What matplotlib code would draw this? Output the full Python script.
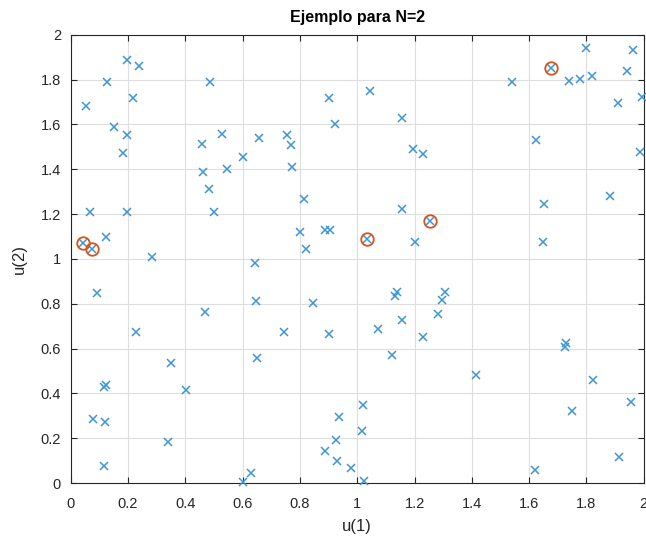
import numpy as np
import matplotlib
matplotlib.use("Agg")
import matplotlib.pyplot as plt

plt.rcParams['font.family'] = ['Liberation Sans', 'DejaVu Sans']

# sample points u = (u(1), u(2))
u1 = [0.052, 0.195, 0.237, 0.128, 0.216, 0.151, 0.195, 0.184, 0.067, 0.195,
      0.124, 0.044, 0.074, 0.285, 0.486, 0.458, 0.527, 0.600, 0.463, 0.547,
      0.483, 0.500, 0.900, 1.044, 0.924, 0.656, 0.755, 0.768, 0.772, 1.155,
      1.196, 1.228, 0.814, 1.155, 0.800, 0.886, 0.905, 0.823, 1.035, 1.255,
      1.200, 1.798, 1.963, 1.677, 1.941, 1.541, 1.738, 1.779, 1.821, 1.909,
      1.994, 1.623, 1.986, 1.881, 1.652, 1.648, 0.091, 0.469, 0.229, 0.349,
      0.117, 0.124, 0.403, 0.079, 0.120, 0.339, 0.117, 0.600, 0.630, 0.642,
      0.647, 0.652, 0.744, 0.846, 0.900, 1.071, 1.133, 1.138, 1.155, 1.122,
      1.228, 1.283, 1.297, 1.306, 1.021, 0.938, 1.016, 0.925, 0.889, 0.928,
      0.980, 1.025, 1.729, 1.724, 1.416, 1.824, 1.955, 1.749, 1.914, 1.619]
u2 = [1.683, 1.887, 1.859, 1.790, 1.719, 1.590, 1.554, 1.473, 1.209, 1.209,
      1.098, 1.073, 1.044, 1.010, 1.790, 1.514, 1.559, 1.455, 1.390, 1.403,
      1.314, 1.209, 1.717, 1.748, 1.600, 1.538, 1.554, 1.507, 1.410, 1.631,
      1.492, 1.467, 1.267, 1.221, 1.122, 1.127, 1.127, 1.044, 1.090, 1.169,
      1.076, 1.941, 1.933, 1.852, 1.840, 1.788, 1.793, 1.804, 1.818, 1.695,
      1.724, 1.532, 1.479, 1.280, 1.246, 1.076, 0.846, 0.763, 0.676, 0.536,
      0.428, 0.436, 0.414, 0.285, 0.274, 0.185, 0.075, 0.003, 0.046, 0.981,
      0.811, 0.559, 0.672, 0.805, 0.664, 0.688, 0.833, 0.852, 0.729, 0.571,
      0.652, 0.754, 0.815, 0.852, 0.349, 0.297, 0.232, 0.192, 0.145, 0.099,
      0.068, 0.009, 0.624, 0.607, 0.484, 0.460, 0.361, 0.320, 0.115, 0.057]

# highlighted points
sel_u1 = [0.044, 0.074, 1.035, 1.255, 1.677]
sel_u2 = [1.073, 1.044, 1.090, 1.169, 1.852]

tick_vals = np.arange(0, 2.01, 0.2)
tick_labels = ['0', '0.2', '0.4', '0.6', '0.8', '1', '1.2', '1.4', '1.6', '1.8', '2']

fig = plt.figure(figsize=(6.46, 5.44), dpi=100)
ax = fig.add_axes([0.1094, 0.112, 0.8871, 0.824])

ax.plot(u1, u2, 'x', color='#3d96d4', markersize=5.5, markeredgewidth=1.1,
        clip_on=False, zorder=3)
ax.plot(sel_u1, sel_u2, 'o', markerfacecolor='none', markeredgecolor='#d95319',
        markersize=9, markeredgewidth=1.3, clip_on=False, zorder=4)

ax.set_xlim(0, 2)
ax.set_ylim(0, 2)
ax.set_xticks(tick_vals)
ax.set_yticks(tick_vals)
ax.set_xticklabels(tick_labels)
ax.set_yticklabels(tick_labels)
ax.tick_params(direction='in', length=4, width=0.8, colors='#262626',
               labelsize=10.5, top=True, right=True)
ax.tick_params(axis='x', pad=10)
ax.tick_params(axis='y', pad=7)
ax.grid(True, color='#dedede', linewidth=0.8)
ax.set_axisbelow(True)
for s in ax.spines.values():
    s.set_color('#262626')
    s.set_linewidth(0.8)

ax.set_title('Ejemplo para N=2', fontsize=11.5, fontweight='bold', pad=9)
ax.set_xlabel('u(1)', fontsize=12, color='#262626', labelpad=6)
ax.set_ylabel('u(2)', fontsize=12, color='#262626', labelpad=10)

fig.savefig('out.png', dpi=100)
